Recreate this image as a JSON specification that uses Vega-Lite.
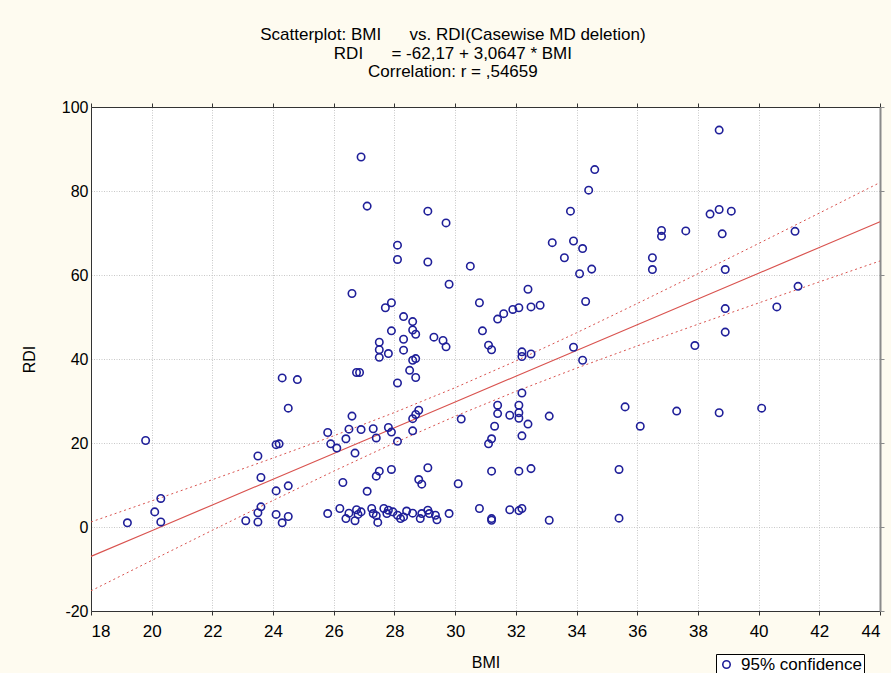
{
  "$schema": "https://vega.github.io/schema/vega-lite/v6.json",
  "autosize": "none",
  "width": 789,
  "height": 504,
  "padding": {"left": 91, "top": 107, "right": 11, "bottom": 62},
  "background": "#fefbf0",
  "config": {
    "font": "Liberation Sans",
    "view": {"fill": "white", "stroke": null},
    "axis": {"labelFont": "Liberation Sans", "titleFont": "Liberation Sans", "labelColor": "black", "titleColor": "black", "labelFontSize": 16, "titleFontSize": 16, "titleFontWeight": "normal", "domainColor": "#333333", "tickColor": "#333333", "gridColor": "#c8c8c8", "gridDash": [1, 1.5]}
  },
  "title": {
    "text": ["Scatterplot: BMI\u00a0\u00a0\u00a0\u00a0\u00a0\u00a0vs. RDI(Casewise MD deletion)", "RDI\u00a0\u00a0\u00a0\u00a0\u00a0\u00a0= -62,17 + 3,0647 * BMI", "Correlation: r = ,54659"],
    "anchor": "middle",
    "frame": "bounds",
    "fontSize": 17,
    "fontWeight": "normal",
    "font": "Liberation Sans",
    "color": "black",
    "lineHeight": 18.5,
    "offset": 18
  },
  "datasets": {
    "fit": [
      {"BMI": 18, "fit": -7.0, "lo": -15.2, "hi": 1.2},
      {"BMI": 20, "fit": -0.88, "lo": -7.96, "hi": 6.21},
      {"BMI": 22, "fit": 5.25, "lo": -0.77, "hi": 11.27},
      {"BMI": 24, "fit": 11.38, "lo": 6.33, "hi": 16.43},
      {"BMI": 26, "fit": 17.51, "lo": 13.3, "hi": 21.72},
      {"BMI": 28, "fit": 23.64, "lo": 20.02, "hi": 27.26},
      {"BMI": 30, "fit": 29.77, "lo": 26.37, "hi": 33.17},
      {"BMI": 32, "fit": 35.9, "lo": 32.28, "hi": 39.52},
      {"BMI": 34, "fit": 42.03, "lo": 37.82, "hi": 46.24},
      {"BMI": 36, "fit": 48.16, "lo": 43.11, "hi": 53.21},
      {"BMI": 38, "fit": 54.29, "lo": 48.27, "hi": 60.31},
      {"BMI": 40, "fit": 60.42, "lo": 53.34, "hi": 67.5},
      {"BMI": 42, "fit": 66.55, "lo": 58.36, "hi": 74.74},
      {"BMI": 44, "fit": 72.68, "lo": 63.34, "hi": 82.02}
    ],
    "pts": [
      {"BMI": 19.2, "RDI": 1.0}, {"BMI": 19.8, "RDI": 20.6}, {"BMI": 20.1, "RDI": 3.6}, {"BMI": 20.3, "RDI": 6.8}, {"BMI": 20.3, "RDI": 1.2},
      {"BMI": 23.1, "RDI": 1.5}, {"BMI": 23.5, "RDI": 1.2}, {"BMI": 23.5, "RDI": 3.4}, {"BMI": 23.6, "RDI": 4.8}, {"BMI": 23.5, "RDI": 16.9},
      {"BMI": 23.6, "RDI": 11.8}, {"BMI": 24.1, "RDI": 8.6}, {"BMI": 24.5, "RDI": 9.8}, {"BMI": 24.1, "RDI": 19.6}, {"BMI": 24.2, "RDI": 19.8},
      {"BMI": 24.3, "RDI": 35.5}, {"BMI": 24.8, "RDI": 35.1}, {"BMI": 24.5, "RDI": 28.3}, {"BMI": 24.1, "RDI": 3.0}, {"BMI": 24.3, "RDI": 1.0},
      {"BMI": 24.5, "RDI": 2.5},
      {"BMI": 25.8, "RDI": 22.5}, {"BMI": 25.9, "RDI": 19.8}, {"BMI": 26.1, "RDI": 18.8}, {"BMI": 26.6, "RDI": 26.4}, {"BMI": 26.4, "RDI": 21.0},
      {"BMI": 26.5, "RDI": 23.3}, {"BMI": 26.7, "RDI": 17.6}, {"BMI": 26.9, "RDI": 23.2}, {"BMI": 27.3, "RDI": 23.4}, {"BMI": 27.4, "RDI": 21.2},
      {"BMI": 27.8, "RDI": 23.7}, {"BMI": 27.9, "RDI": 22.6}, {"BMI": 28.1, "RDI": 20.4}, {"BMI": 28.6, "RDI": 22.9}, {"BMI": 28.6, "RDI": 25.8},
      {"BMI": 28.7, "RDI": 26.8}, {"BMI": 28.8, "RDI": 27.8},
      {"BMI": 26.3, "RDI": 10.6}, {"BMI": 27.1, "RDI": 8.5}, {"BMI": 27.4, "RDI": 12.1}, {"BMI": 27.5, "RDI": 13.3}, {"BMI": 27.9, "RDI": 13.7},
      {"BMI": 28.8, "RDI": 11.3}, {"BMI": 28.9, "RDI": 10.2}, {"BMI": 29.1, "RDI": 14.1}, {"BMI": 30.1, "RDI": 10.3},
      {"BMI": 26.75, "RDI": 36.8}, {"BMI": 26.85, "RDI": 36.8}, {"BMI": 27.5, "RDI": 44.0}, {"BMI": 27.5, "RDI": 42.2}, {"BMI": 27.5, "RDI": 40.4},
      {"BMI": 27.8, "RDI": 41.3}, {"BMI": 27.9, "RDI": 46.7}, {"BMI": 27.7, "RDI": 52.2}, {"BMI": 27.9, "RDI": 53.4}, {"BMI": 28.1, "RDI": 34.3},
      {"BMI": 28.3, "RDI": 50.1}, {"BMI": 28.6, "RDI": 48.9}, {"BMI": 28.6, "RDI": 46.9}, {"BMI": 28.7, "RDI": 45.9}, {"BMI": 28.3, "RDI": 44.7},
      {"BMI": 28.3, "RDI": 42.1}, {"BMI": 28.7, "RDI": 40.1}, {"BMI": 28.6, "RDI": 39.7}, {"BMI": 28.5, "RDI": 37.3}, {"BMI": 28.7, "RDI": 35.6},
      {"BMI": 29.3, "RDI": 45.2}, {"BMI": 29.6, "RDI": 44.4}, {"BMI": 29.7, "RDI": 42.9},
      {"BMI": 26.6, "RDI": 55.6}, {"BMI": 26.9, "RDI": 88.1}, {"BMI": 27.1, "RDI": 76.4}, {"BMI": 29.1, "RDI": 75.2}, {"BMI": 29.7, "RDI": 72.4},
      {"BMI": 28.1, "RDI": 67.1}, {"BMI": 28.1, "RDI": 63.7}, {"BMI": 29.1, "RDI": 63.1}, {"BMI": 30.5, "RDI": 62.1}, {"BMI": 29.8, "RDI": 57.8},
      {"BMI": 30.8, "RDI": 53.4}, {"BMI": 30.9, "RDI": 46.7}, {"BMI": 31.1, "RDI": 43.3}, {"BMI": 31.2, "RDI": 42.2}, {"BMI": 31.4, "RDI": 49.5},
      {"BMI": 31.6, "RDI": 50.8}, {"BMI": 31.9, "RDI": 51.8}, {"BMI": 32.1, "RDI": 52.2}, {"BMI": 32.5, "RDI": 52.4}, {"BMI": 32.8, "RDI": 52.8},
      {"BMI": 32.4, "RDI": 56.6}, {"BMI": 32.2, "RDI": 41.7}, {"BMI": 32.2, "RDI": 40.6}, {"BMI": 32.5, "RDI": 41.2},
      {"BMI": 30.2, "RDI": 25.7}, {"BMI": 31.4, "RDI": 29.0}, {"BMI": 31.4, "RDI": 27.0}, {"BMI": 31.3, "RDI": 24.0}, {"BMI": 31.2, "RDI": 21.0},
      {"BMI": 31.1, "RDI": 19.8}, {"BMI": 31.8, "RDI": 26.6}, {"BMI": 32.2, "RDI": 31.9}, {"BMI": 32.1, "RDI": 29.0}, {"BMI": 32.1, "RDI": 27.2},
      {"BMI": 32.1, "RDI": 25.9}, {"BMI": 32.4, "RDI": 24.5}, {"BMI": 32.2, "RDI": 21.7}, {"BMI": 33.1, "RDI": 26.4}, {"BMI": 31.2, "RDI": 13.3},
      {"BMI": 32.1, "RDI": 13.3}, {"BMI": 32.5, "RDI": 13.9},
      {"BMI": 33.8, "RDI": 75.2}, {"BMI": 33.2, "RDI": 67.7}, {"BMI": 33.9, "RDI": 68.1}, {"BMI": 34.2, "RDI": 66.3}, {"BMI": 33.6, "RDI": 64.1},
      {"BMI": 34.1, "RDI": 60.3}, {"BMI": 34.5, "RDI": 61.4}, {"BMI": 34.3, "RDI": 53.7}, {"BMI": 33.9, "RDI": 42.8}, {"BMI": 34.2, "RDI": 39.7},
      {"BMI": 34.6, "RDI": 85.1}, {"BMI": 34.4, "RDI": 80.2}, {"BMI": 36.5, "RDI": 64.1}, {"BMI": 36.5, "RDI": 61.3}, {"BMI": 36.8, "RDI": 70.6},
      {"BMI": 36.8, "RDI": 69.2}, {"BMI": 37.6, "RDI": 70.5}, {"BMI": 38.4, "RDI": 74.5}, {"BMI": 38.7, "RDI": 75.6}, {"BMI": 39.1, "RDI": 75.2},
      {"BMI": 38.8, "RDI": 69.8}, {"BMI": 38.9, "RDI": 61.3}, {"BMI": 38.9, "RDI": 52.0}, {"BMI": 38.9, "RDI": 46.4}, {"BMI": 37.9, "RDI": 43.2},
      {"BMI": 38.7, "RDI": 94.5}, {"BMI": 40.6, "RDI": 52.4}, {"BMI": 41.2, "RDI": 70.4}, {"BMI": 41.3, "RDI": 57.3},
      {"BMI": 35.6, "RDI": 28.6}, {"BMI": 36.1, "RDI": 24.0}, {"BMI": 37.3, "RDI": 27.6}, {"BMI": 38.7, "RDI": 27.2}, {"BMI": 40.1, "RDI": 28.3},
      {"BMI": 35.4, "RDI": 13.7}, {"BMI": 35.4, "RDI": 2.1}, {"BMI": 33.1, "RDI": 1.6},
      {"BMI": 25.8, "RDI": 3.2}, {"BMI": 26.2, "RDI": 4.4}, {"BMI": 26.4, "RDI": 2.0}, {"BMI": 26.5, "RDI": 3.3}, {"BMI": 26.7, "RDI": 1.5},
      {"BMI": 26.8, "RDI": 3.0}, {"BMI": 26.75, "RDI": 4.1}, {"BMI": 26.9, "RDI": 3.6}, {"BMI": 27.25, "RDI": 4.4}, {"BMI": 27.3, "RDI": 3.2},
      {"BMI": 27.45, "RDI": 1.1}, {"BMI": 27.4, "RDI": 2.7}, {"BMI": 27.65, "RDI": 4.4}, {"BMI": 27.75, "RDI": 3.2}, {"BMI": 27.8, "RDI": 4.0},
      {"BMI": 27.95, "RDI": 3.6}, {"BMI": 28.1, "RDI": 2.8}, {"BMI": 28.2, "RDI": 2.0}, {"BMI": 28.3, "RDI": 2.4}, {"BMI": 28.4, "RDI": 3.8},
      {"BMI": 28.6, "RDI": 3.3}, {"BMI": 28.85, "RDI": 2.0}, {"BMI": 28.9, "RDI": 3.2}, {"BMI": 29.1, "RDI": 4.0}, {"BMI": 29.15, "RDI": 3.2},
      {"BMI": 29.4, "RDI": 1.7}, {"BMI": 29.35, "RDI": 2.8}, {"BMI": 29.8, "RDI": 3.2}, {"BMI": 30.8, "RDI": 4.4}, {"BMI": 31.2, "RDI": 2.0},
      {"BMI": 31.2, "RDI": 1.6}, {"BMI": 31.8, "RDI": 4.1}, {"BMI": 32.1, "RDI": 3.9}, {"BMI": 32.2, "RDI": 4.4}
    ]
  },
  "layer": [
    {
      "data": {"name": "fit"},
      "mark": {"type": "line", "color": "#d9534f", "strokeWidth": 1, "strokeDash": [2, 3]},
      "encoding": {
        "x": {"field": "BMI", "type": "quantitative", "scale": {"domain": [18, 44], "nice": false, "zero": false},
              "axis": {"orient": "top", "labels": false, "title": null, "grid": false, "values": [18,20,22,24,26,28,30,32,34,36,38,40,42,44], "tickSize": 4, "domainColor": "#333333"}},
        "y": {"field": "hi", "type": "quantitative", "scale": {"domain": [-20, 100], "nice": false, "zero": false},
              "axis": {"orient": "right", "labels": false, "title": null, "grid": false, "values": [-20,0,20,40,60,80,100], "tickSize": 4, "domainColor": "#8a8a8a", "domainWidth": 2, "tickColor": "#8a8a8a"}}
      }
    },
    {
      "data": {"name": "fit"},
      "mark": {"type": "line", "color": "#d9534f", "strokeWidth": 1, "strokeDash": [2, 3]},
      "encoding": {
        "x": {"field": "BMI", "type": "quantitative", "axis": null},
        "y": {"field": "lo", "type": "quantitative", "axis": null}
      }
    },
    {
      "data": {"name": "fit"},
      "mark": {"type": "line", "color": "#d9534f", "strokeWidth": 1.2},
      "encoding": {
        "x": {"field": "BMI", "type": "quantitative", "axis": null},
        "y": {"field": "fit", "type": "quantitative", "axis": null}
      }
    },
    {
      "data": {"name": "pts"},
      "transform": [{"calculate": "'95% confidence'", "as": "series"}],
      "mark": {"type": "point", "shape": "circle", "filled": false, "size": 55, "strokeWidth": 1.6, "opacity": 1},
      "encoding": {
        "x": {"field": "BMI", "type": "quantitative",
              "axis": {"orient": "bottom", "title": "BMI", "values": [18,20,22,24,26,28,30,32,34,36,38,40,42,44], "tickSize": 4, "labelPadding": 8, "titlePadding": 15, "grid": true, "labelFontSize": 17}},
        "y": {"field": "RDI", "type": "quantitative",
              "axis": {"orient": "left", "title": "RDI", "values": [-20,0,20,40,60,80,100], "labelExpr": "'' + datum.value", "tickSize": 0, "labelPadding": 3, "titlePadding": 24, "grid": true}},
        "color": {"field": "series", "type": "nominal", "scale": {"range": ["#1f1f99"]},
                  "legend": {"title": null, "orient": "none", "legendX": 625, "legendY": 547, "strokeColor": "black", "fillColor": "white", "padding": 2, "labelFontSize": 17, "labelFont": "Liberation Sans", "labelColor": "black", "symbolSize": 55, "symbolStrokeWidth": 1.6, "labelOffset": 6}}
      }
    }
  ],
  "resolve": {"axis": {"x": "independent", "y": "independent"}}
}
